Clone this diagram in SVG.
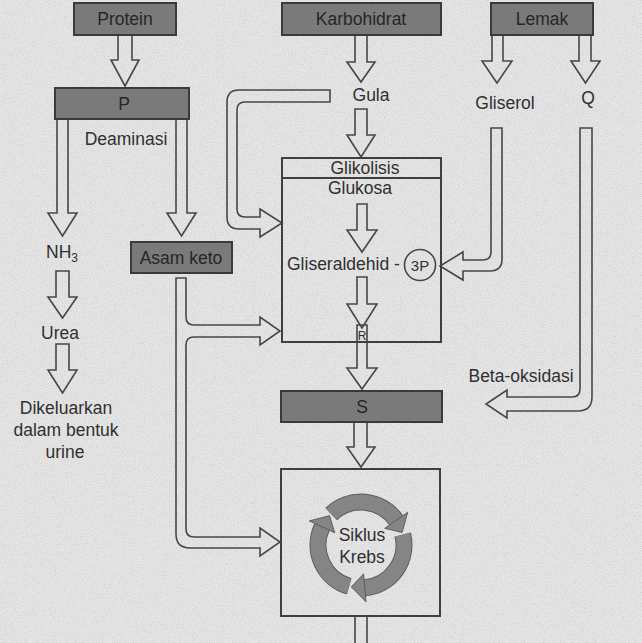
<svg xmlns="http://www.w3.org/2000/svg" width="642" height="643" viewBox="0 0 642 643">
<style>
.bg{fill:#e5e5e5}
.box{fill:#7a7a7a;stroke:#3a3a3a;stroke-width:2}
.frame{fill:none;stroke:#3f3f3f;stroke-width:2}
.arr{fill:none;stroke:#474747;stroke-width:1.6;stroke-linejoin:miter}
text{font-family:"Liberation Sans",Arial,sans-serif;font-size:17.5px;fill:#303030;text-anchor:middle}
.dk{fill:#262626}
.ring{fill:none;stroke:#858585;stroke-width:15}
.ringo{fill:none;stroke:#5c5c5c;stroke-width:17}
.head{fill:#858585;stroke:#5c5c5c;stroke-width:1}
</style>
<defs>
<filter id="grain" x="0" y="0" width="100%" height="100%">
<feTurbulence type="fractalNoise" baseFrequency="0.9" numOctaves="2" seed="3"/>
<feColorMatrix type="matrix" values="0 0 0 0 0.4  0 0 0 0 0.4  0 0 0 0 0.4  0 0 0 -2.2 1.25"/>
</filter>
</defs>
<rect class="bg" x="0" y="0" width="642" height="643"/>
<rect x="0" y="0" width="642" height="643" filter="url(#grain)" opacity="0.35"/>

<g id="connectors">
<path class="arr" d="M118 35 V60 H111 L125 86 L139 60 H132 V35 Z"/>
<path class="arr" d="M57 119 V213 H48 L62.5 236 L77 213 H68 V119 Z"/>
<path class="arr" d="M176 119 V213 H167 L181.5 236 L196 213 H187 V119 Z"/>
<path class="arr" d="M56 271 V297 H48 L62.5 318 L77 297 H69 V271 Z"/>
<path class="arr" d="M56 344 V370 H48 L62.5 393 L77 370 H69 V344 Z"/>
<path class="arr" d="M355 35 V62 H347 L361 82 L375 62 H367 V35 Z"/>
<path class="arr" d="M355 109 V135 H347 L361 157 L375 135 H367 V109 Z"/>
<path class="arr" d="M357 204 V230 H347 L362 252 L377 230 H367 V204 Z"/>
<path class="arr" d="M357 277 V304 H347 L362 328 L377 304 H367 V277 Z"/>
<path class="arr" d="M357 325 V368 H347 L362 389 L377 368 H367 V325 Z"/>
<path class="arr" d="M354 422 V447 H347 L361 467 L375 447 H367 V422 Z"/>
<path class="arr" d="M355 616 V643 M367 616 V643"/>
<path class="arr" d="M492 35 V61 H482 L497 83 L512 61 H503 V35 Z"/>
<path class="arr" d="M579 35 V61 H571 L585.5 83 L600 61 H591 V35 Z"/>
<path class="arr" d="M330 90 H239 Q227 90 227 102 V217 Q227 229 239 229 H260 V237 L282 223 L260 209 V217 H245 Q237 217 237 209 V110 Q237 102 245 102 H330 Z"/>
<path class="arr" d="M491 128 V252 Q491 260 483 260 H463 V252 L440 266 L463 280 V271 H490 Q502 271 502 259 V128 Z"/>
<path class="arr" d="M580 128 V389 Q580 397 572 397 H507 V390 L486 404 L507 418 V411 H578 Q592 411 592 397 V128 Z"/>
<path class="arr" d="M176 278 H186 V317 Q186 325 194 325 H260 V317 L280 331 L260 345 V337 H194 Q186 337 186 345 V529 Q186 537 194 537 H260 V528 L280 542 L260 556 V548 H190 Q176 548 176 534 Z"/>
</g>

<g id="protein"><rect class="box" x="74" y="3" width="102" height="32"/><text class="dk" x="125" y="25">Protein</text></g>
<g id="karbohidrat"><rect class="box" x="282" y="3" width="159" height="32"/><text class="dk" x="361" y="25">Karbohidrat</text></g>
<g id="lemak"><rect class="box" x="491" y="3" width="102" height="32"/><text class="dk" x="542" y="25">Lemak</text></g>
<g id="p"><rect class="box" x="55" y="88" width="134" height="31"/><text class="dk" x="124" y="110">P</text></g>
<g id="deaminasi"><text x="126" y="145">Deaminasi</text></g>
<g id="gula"><text x="371" y="101">Gula</text></g>
<g id="gliserol"><text x="505" y="109">Gliserol</text></g>
<g id="q"><text x="588" y="104">Q</text></g>
<g id="glikolisis">
<rect class="frame" x="282" y="158" width="159" height="184"/>
<line class="frame" x1="282" y1="178" x2="441" y2="178"/>
<text x="365" y="174">Glikolisis</text>
<text x="360" y="194">Glukosa</text>
<text x="287" y="270" style="text-anchor:start">Gliseraldehid -</text>
<circle cx="420" cy="265" r="15.5" fill="none" stroke="#454545" stroke-width="1.6"/>
<text x="420" y="270.5" style="font-size:15px">3P</text>
<text x="362" y="340" style="font-size:12px">R</text>
</g>
<g id="nh3"><text x="62" y="258">NH<tspan dy="4" style="font-size:12px">3</tspan></text></g>
<g id="asam-keto"><rect class="box" x="131" y="242" width="101" height="31"/><text class="dk" x="181" y="264">Asam keto</text></g>
<g id="urea"><text x="60" y="339">Urea</text></g>
<g id="dikeluarkan"><text x="66" y="414">Dikeluarkan</text><text x="66" y="436">dalam bentuk</text><text x="65" y="458">urine</text></g>
<g id="beta-oksidasi"><text x="521" y="382">Beta-oksidasi</text></g>
<g id="s"><rect class="box" x="281" y="391" width="161" height="31"/><text class="dk" x="362" y="413">S</text></g>
<g id="siklus-krebs">
<rect class="frame" x="281" y="469" width="159" height="147"/>
<path class="ringo" d="M402.7 534.6 A43 43 0 0 1 364.75 587.84 M349.15 586.34 A43 43 0 0 1 322.03 526.83 M331.13 514.07 A43 43 0 0 1 396.23 520.34"/>
<path class="ring" d="M402.7 534.6 A43 43 0 0 1 364.75 587.84 M349.15 586.34 A43 43 0 0 1 322.03 526.83 M331.13 514.07 A43 43 0 0 1 396.23 520.34"/>
<path class="head" d="M363.53 573.89 L365.97 601.78 L351.33 586.9 Z"/>
<path class="head" d="M334.72 532.74 L309.34 520.91 L329.55 515.67 Z"/>
<path class="head" d="M384.76 528.37 L407.69 512.3 L402.12 532.43 Z"/>
<text x="362" y="541">Siklus</text>
<text x="362" y="563">Krebs</text>
</g>
</svg>
